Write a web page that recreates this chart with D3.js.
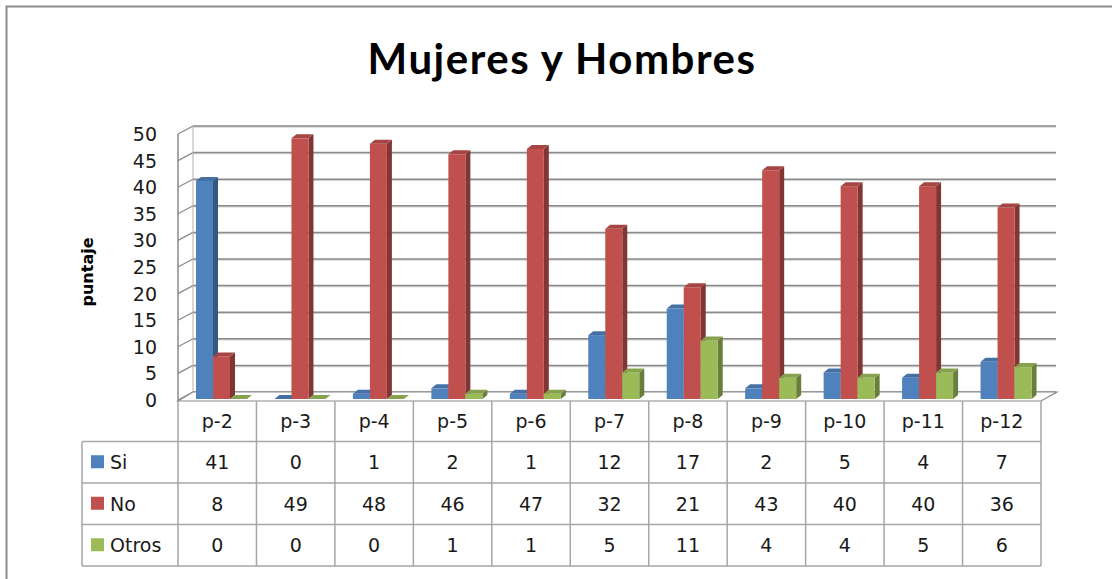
<!DOCTYPE html>
<html>
<head>
<meta charset="utf-8">
<script src="https://cdn.jsdelivr.net/npm/d3@7"></script>
<style>
  body { margin: 0; background: #fff; }
  svg { display: block; }
</style>
</head>
<body>
<div id="chart"></div>
<script>
const categories = ['p-2', 'p-3', 'p-4', 'p-5', 'p-6', 'p-7', 'p-8', 'p-9', 'p-10', 'p-11', 'p-12'];
const seriesNames = ['Si', 'No', 'Otros'];
const siValues = [41, 0, 1, 2, 1, 12, 17, 2, 5, 4, 7];
const noValues = [8, 49, 48, 46, 47, 32, 21, 43, 40, 40, 36];
const otrosValues = [0, 0, 0, 1, 1, 5, 11, 4, 4, 5, 6];
const yTicks = [0, 5, 10, 15, 20, 25, 30, 35, 40, 45, 50];
const colors = ['#4f81bd', '#c0504d', '#9bbb59'];

const seriesValues = [siValues, noValues, otrosValues];

const W = 1112, H = 579;
const svg = d3.select('#chart').append('svg')
  .attr('width', W).attr('height', H);

// chart frame (runs off the right / bottom of the picture)
svg.append('rect')
  .attr('x', 6.5).attr('y', 6.5)
  .attr('width', 1200).attr('height', 700)
  .attr('fill', 'none').attr('stroke', '#8c8c8c').attr('stroke-width', 2);

// title
svg.append('text')
  .attr('x', 562).attr('y', 74)
  .attr('text-anchor', 'middle')
  .style('font-family', 'Lato, "Open Sans", sans-serif')
  .style('font-weight', 'bold')
  .style('font-size', '42px')
  .style('letter-spacing', '1.5px')
  .text('Mujeres y Hombres');

// scales
const x = d3.scaleBand().domain(categories).range([178, 1041]);
const y = d3.scaleLinear().domain([0, 50]).range([400, 134]);
const inner = d3.scaleBand().domain(seriesNames).range([18, 69]);
const depth = { dx: 15, dy: -8 };
const bar = { dx: 5, dy: -4 };

const x0 = x.range()[0], x1 = x.range()[1];

// back wall gridlines + left wall diagonals
const grid = svg.append('g');
yTicks.forEach(t => {
  grid.append('line')
    .attr('x1', x0 + depth.dx).attr('x2', x1 + depth.dx)
    .attr('y1', y(t) + depth.dy + 1).attr('y2', y(t) + depth.dy + 1)
    .attr('stroke', '#d4d4d4').attr('stroke-width', 1.5);
  grid.append('line')
    .attr('x1', x0 + depth.dx).attr('x2', x1 + depth.dx)
    .attr('y1', y(t) + depth.dy).attr('y2', y(t) + depth.dy)
    .attr('stroke', '#8a8a8a').attr('stroke-width', 1.5);
  grid.append('line')
    .attr('x1', x0).attr('x2', x0 + depth.dx)
    .attr('y1', y(t)).attr('y2', y(t) + depth.dy)
    .attr('stroke', '#8a8a8a').attr('stroke-width', 1.2);
});
// left wall edges
grid.append('line')
  .attr('x1', x0).attr('x2', x0)
  .attr('y1', y(50)).attr('y2', y(0) + 1)
  .attr('stroke', '#8a8a8a').attr('stroke-width', 1.5);
grid.append('line')
  .attr('x1', x0 + depth.dx).attr('x2', x0 + depth.dx)
  .attr('y1', y(50) + depth.dy).attr('y2', y(0) + depth.dy)
  .attr('stroke', '#b0b0b0').attr('stroke-width', 1);
// floor
grid.append('path')
  .attr('d', `M${x0},${y(0) + 1}L${x1},${y(0) + 1}L${x1 + depth.dx + 1},${y(0) + depth.dy}L${x0 + depth.dx},${y(0) + depth.dy}Z`)
  .attr('fill', '#fff').attr('stroke', '#8a8a8a').attr('stroke-width', 1.2);

// y axis labels
svg.append('g')
  .selectAll('text')
  .data(yTicks)
  .join('text')
  .attr('x', 157)
  .attr('y', d => y(d) + 7)
  .attr('text-anchor', 'end')
  .style('font-family', '"DejaVu Sans", sans-serif')
  .style('font-size', '19px')
  .attr('fill', '#1a1a1a')
  .text(d => d);

// y axis title
svg.append('text')
  .attr('transform', 'translate(93,272) rotate(-90)')
  .attr('text-anchor', 'middle')
  .style('font-family', '"DejaVu Sans", sans-serif')
  .style('font-weight', 'bold')
  .style('font-size', '16px')
  .text('puntaje');

// bars
const barsG = svg.append('g');
categories.forEach((c, i) => {
  seriesNames.forEach((s, j) => {
    const v = seriesValues[j][i];
    const bx = x(c) + inner(s);
    const bw = inner.bandwidth();
    const base = y(0) - 1;
    const top = y(v) - 1;
    const col = d3.color(colors[j]);
    const g = barsG.append('g');
    // right side
    g.append('path')
      .attr('d', `M${bx + bw},${top}L${bx + bw + bar.dx},${top + bar.dy}L${bx + bw + bar.dx},${base + bar.dy}L${bx + bw},${base}Z`)
      .attr('fill', col.darker(1.1));
    // front
    g.append('rect')
      .attr('x', bx).attr('y', top)
      .attr('width', bw).attr('height', base - top)
      .attr('fill', colors[j]);
    // top
    g.append('path')
      .attr('d', `M${bx},${top}L${bx + bar.dx},${top + bar.dy}L${bx + bw + bar.dx},${top + bar.dy}L${bx + bw},${top}Z`)
      .attr('fill', col.darker(0.4));
  });
});

// data table
const rowTop = 401, headerH = 40.5, rowH = 41.5;
const tableLeft = 82;
const table = svg.append('g');
const lineStyle = sel => sel.attr('stroke', '#a6a6a6').attr('stroke-width', 1.5);

// horizontal lines
for (let r = 0; r <= 3; r++) {
  const yy = rowTop + headerH + r * rowH;
  table.append('line').attr('x1', tableLeft).attr('x2', x1)
    .attr('y1', yy).attr('y2', yy).call(lineStyle);
}
// vertical lines
categories.forEach(c => {
  table.append('line').attr('x1', x(c)).attr('x2', x(c))
    .attr('y1', rowTop).attr('y2', rowTop + headerH + 3 * rowH).call(lineStyle);
});
table.append('line').attr('x1', x1).attr('x2', x1)
  .attr('y1', rowTop).attr('y2', rowTop + headerH + 3 * rowH).call(lineStyle);
table.append('line').attr('x1', tableLeft).attr('x2', tableLeft)
  .attr('y1', rowTop + headerH).attr('y2', rowTop + headerH + 3 * rowH).call(lineStyle);

const cellFont = sel => sel
  .style('font-family', '"DejaVu Sans", sans-serif')
  .style('font-size', '19px')
  .attr('fill', '#1a1a1a');

// header row
table.selectAll('.hdr')
  .data(categories)
  .join('text')
  .attr('class', 'hdr')
  .attr('x', d => x(d) + x.bandwidth() / 2)
  .attr('y', rowTop + headerH / 2 + 7)
  .attr('text-anchor', 'middle')
  .call(cellFont)
  .text(d => d);

seriesNames.forEach((s, j) => {
  const cy = rowTop + headerH + j * rowH + rowH / 2;
  table.append('rect')
    .attr('x', 91).attr('y', cy - 7)
    .attr('width', 13).attr('height', 13)
    .attr('fill', colors[j]);
  table.append('text')
    .attr('x', 110).attr('y', cy + 7)
    .call(cellFont)
    .text(s);
  table.selectAll('.v' + j)
    .data(seriesValues[j])
    .join('text')
    .attr('class', 'v' + j)
    .attr('x', (d, i) => x(categories[i]) + x.bandwidth() / 2)
    .attr('y', cy + 7)
    .attr('text-anchor', 'middle')
    .call(cellFont)
    .text(d => d);
});
</script>
</body>
</html>
